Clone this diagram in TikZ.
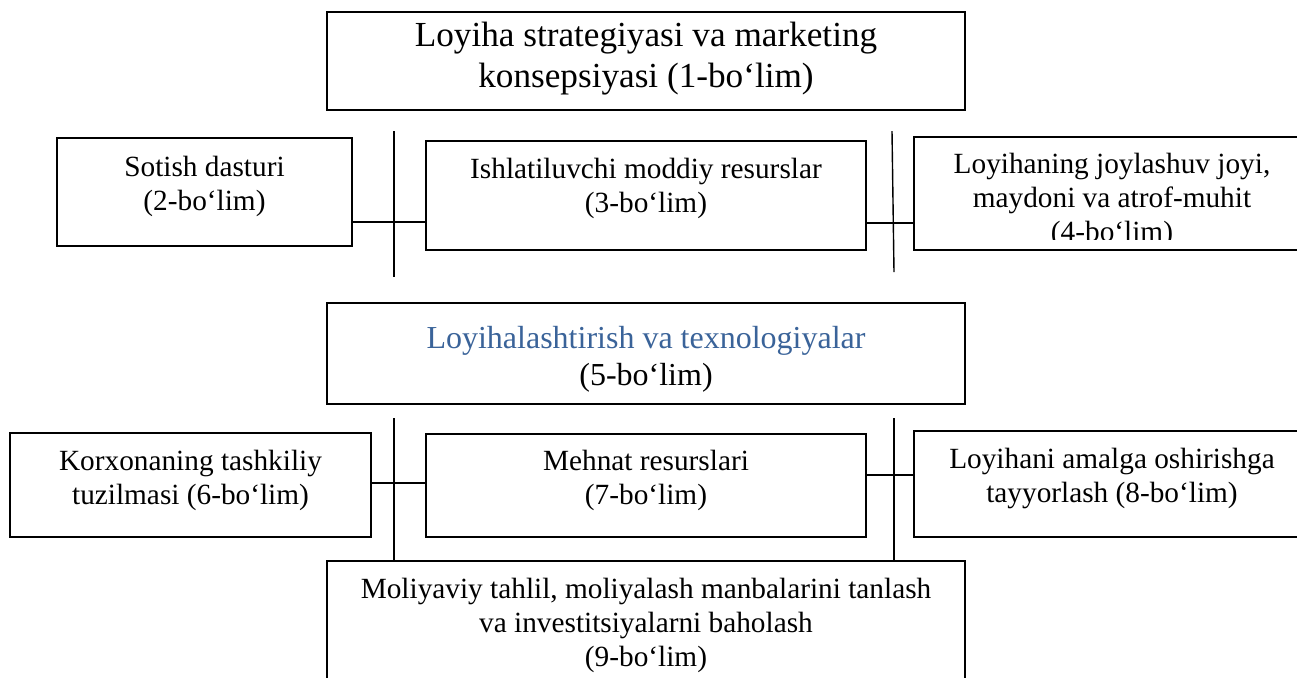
\documentclass[tikz,border=0pt]{standalone}
\usepackage{fontspec}
\setmainfont{Liberation Serif}
\definecolor{loyblue}{HTML}{3A6399}

\begin{document}
\begin{tikzpicture}[x=0.5pt,y=-0.5pt]
    \tikzstyle{box}=[draw, line width=0.8pt, rectangle, inner sep=0pt]
    \tikzstyle{txt}=[anchor=north, align=center, inner sep=0pt, font=\fontsize{14.65}{16.85}\selectfont]
    \tikzstyle{spine}=[line width=0.7pt]
    \path[use as bounding box, clip] (0,0) rectangle (1297,677);

    \node[box, minimum width=319pt, minimum height=49pt] (b1) at (646,61) {};
    \node[box, minimum width=147.5pt, minimum height=54pt] (b2) at (204.5,192) {};
    \node[box, minimum width=220pt, minimum height=54.5pt] (b3) at (646,195.5) {};
    \node[box, minimum width=198pt, minimum height=56.5pt] (b4) at (1112,193.5) {};
    \node[box, minimum width=319pt, minimum height=50.5pt] (b5) at (646,353.5) {};
    \node[box, minimum width=180.5pt, minimum height=52pt] (b6) at (190.5,485) {};
    \node[box, minimum width=220pt, minimum height=51.5pt] (b7) at (646,485.5) {};
    \node[box, minimum width=198pt, minimum height=53pt] (b8) at (1112,484) {};
    \node[box, minimum width=319pt, minimum height=69.5pt] (b9) at (646,630.5) {};

    \node[txt, font=\fontsize{17.6}{20.3}\selectfont] (t1) at (646,22) {Loyiha strategiyasi va marketing\\konsepsiyasi (1-bo‘lim)};
    \node[txt] (t2) at (204.5,156) {Sotish dasturi\\(2-bo‘lim)};
    \node[txt] (t3) at (646,158) {Ishlatiluvchi moddiy resurslar\\(3-bo‘lim)};
    \begin{scope}
        \clip (914,137) rectangle (1310,239);
        \node[txt] (t4) at (1112,153) {Loyihaning joylashuv joyi,\\maydoni va atrof-muhit\\(4-bo‘lim)};
    \end{scope}
    \node[txt, font=\fontsize{16}{18.6}\selectfont] (t5) at (646,326) {\textcolor{loyblue}{Loyihalashtirish va texnologiyalar}\\(5-bo‘lim)};
    \node[txt] (t6) at (190.5,450) {Korxonaning tashkiliy\\tuzilmasi (6-bo‘lim)};
    \node[txt] (t7) at (646,450) {Mehnat resurslari\\(7-bo‘lim)};
    \node[txt] (t8) at (1112,448) {Loyihani amalga oshirishga\\tayyorlash (8-bo‘lim)};
    \node[txt] (t9) at (646,578) {Moliyaviy tahlil, moliyalash manbalarini tanlash\\va investitsiyalarni baholash\\(9-bo‘lim)};

    \coordinate (u1) at (394,131);
    \coordinate (d1) at (394,277);
    \coordinate (u2) at (892,131);
    \coordinate (d2) at (894,272);
    \coordinate (u3) at (394,418);
    \coordinate (u4) at (894,418);
    \coordinate (h1) at (394,222);
    \coordinate (h2) at (893,223);
    \coordinate (h3) at (394,483);
    \coordinate (h4) at (894,475);

    \draw[spine] (u1) -- (d1);
    \draw[spine] (u2) -- (d2);
    \draw[spine] (h1 -| b2.east) -- (h1 -| b3.west);
    \draw[spine] (h2 -| b3.east) -- (h2 -| b4.west);
    \draw[spine] (u3) -- (u3 |- b9.north);
    \draw[spine] (u4) -- (u4 |- b9.north);
    \draw[spine] (h3 -| b6.east) -- (h3 -| b7.west);
    \draw[spine] (h4 -| b7.east) -- (h4 -| b8.west);
\end{tikzpicture}
\end{document}
